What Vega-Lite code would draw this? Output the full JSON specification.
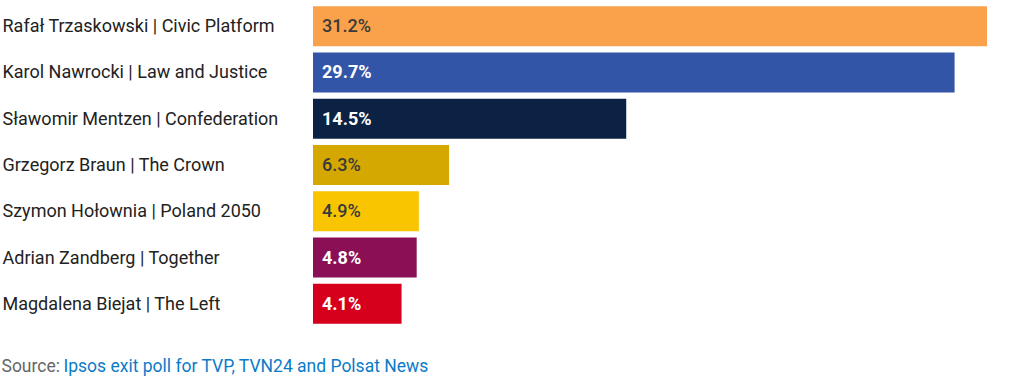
{
  "$schema": "https://vega.github.io/schema/vega-lite/v6.json",
  "width": 674,
  "height": 324,
  "autosize": {"type": "none"},
  "padding": {"left": 313, "top": 3, "right": 22, "bottom": 51},
  "background": "white",
  "config": {"view": {"stroke": null}, "font": "Roboto"},
  "data": {
    "values": [
      {"candidate": "Rafał Trzaskowski | Civic Platform", "value": 31.2, "label": "31.2%", "tone": "dark"},
      {"candidate": "Karol Nawrocki | Law and Justice", "value": 29.7, "label": "29.7%", "tone": "light"},
      {"candidate": "Sławomir Mentzen | Confederation", "value": 14.5, "label": "14.5%", "tone": "light"},
      {"candidate": "Grzegorz Braun | The Crown", "value": 6.3, "label": "6.3%", "tone": "dark"},
      {"candidate": "Szymon Hołownia | Poland 2050", "value": 4.9, "label": "4.9%", "tone": "dark"},
      {"candidate": "Adrian Zandberg | Together", "value": 4.8, "label": "4.8%", "tone": "light"},
      {"candidate": "Magdalena Biejat | The Left", "value": 4.1, "label": "4.1%", "tone": "light"}
    ]
  },
  "encoding": {
    "y": {
      "field": "candidate",
      "type": "nominal",
      "sort": null,
      "scale": {"paddingInner": 0.136, "paddingOuter": 0.068},
      "axis": {
        "title": "Source:",
        "titleAngle": 0,
        "titleX": -312,
        "titleY": 368,
        "titleAlign": "left",
        "titleBaseline": "alphabetic",
        "titleColor": "#666666",
        "titleFontSize": 17.5,
        "titleFontWeight": "normal",
        "labelAlign": "left",
        "labelPadding": 311,
        "labelLimit": 400,
        "labelFontSize": 18,
        "labelColor": "#222222",
        "labelOffset": 1,
        "ticks": false,
        "domain": false
      }
    }
  },
  "layer": [
    {
      "mark": {"type": "bar"},
      "encoding": {
        "x": {
          "field": "value",
          "type": "quantitative",
          "scale": {"domain": [0, 31.2], "nice": false},
          "axis": {
            "title": "Ipsos exit poll for TVP, TVN24 and Polsat News",
            "titleX": -250,
            "titleY": 44,
            "titleAlign": "left",
            "titleAnchor": null,
            "titleBaseline": "alphabetic",
            "titleColor": "#0A7BC8",
            "titleFontSize": 17.5,
            "titleFontWeight": "normal",
            "labels": false,
            "ticks": false,
            "domain": false,
            "grid": false
          }
        },
        "color": {
          "field": "candidate",
          "type": "nominal",
          "scale": {
            "domain": [
              "Rafał Trzaskowski | Civic Platform",
              "Karol Nawrocki | Law and Justice",
              "Sławomir Mentzen | Confederation",
              "Grzegorz Braun | The Crown",
              "Szymon Hołownia | Poland 2050",
              "Adrian Zandberg | Together",
              "Magdalena Biejat | The Left"
            ],
            "range": ["#F9A24B", "#3355A8", "#0B2244", "#D4A800", "#F9C500", "#8A0F55", "#D6001C"]
          },
          "legend": null
        }
      }
    },
    {
      "transform": [{"filter": "datum.tone === 'dark'"}],
      "mark": {"type": "text", "align": "left", "baseline": "middle", "dx": 9, "dy": 1, "fontSize": 18, "fontWeight": 500, "color": "#3a3a3a"},
      "encoding": {
        "x": {"datum": 0, "type": "quantitative"},
        "text": {"field": "label"}
      }
    },
    {
      "transform": [{"filter": "datum.tone === 'light'"}],
      "mark": {"type": "text", "align": "left", "baseline": "middle", "dx": 9, "dy": 1, "fontSize": 18, "fontWeight": "bold", "color": "#ffffff"},
      "encoding": {
        "x": {"datum": 0, "type": "quantitative"},
        "text": {"field": "label"}
      }
    }
  ]
}
